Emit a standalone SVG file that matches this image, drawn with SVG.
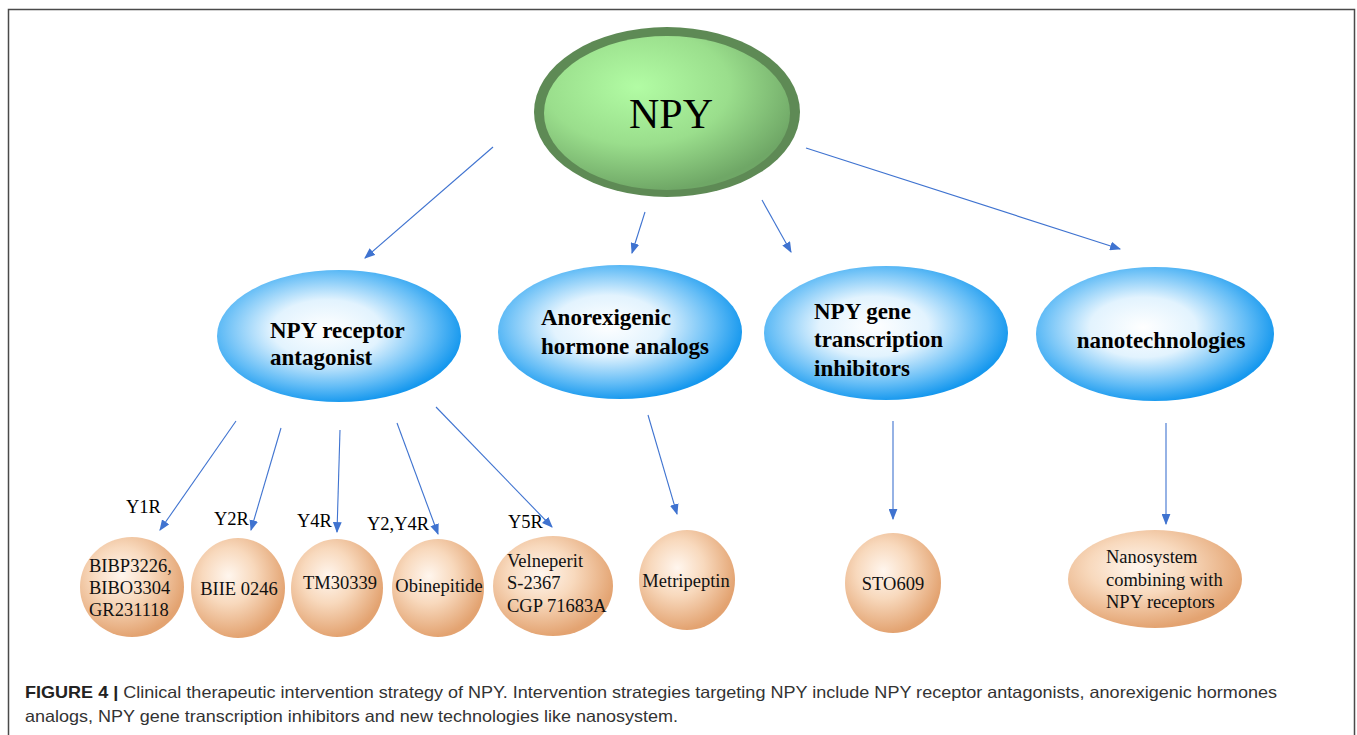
<svg xmlns="http://www.w3.org/2000/svg" width="1357" height="735" viewBox="0 0 1357 735">
<defs>
<radialGradient id="gGreen" cx="0.38" cy="0.33" r="0.68">
<stop offset="0" stop-color="#b2fca4"/>
<stop offset="0.55" stop-color="#9ade8c"/>
<stop offset="1" stop-color="#6fa766"/>
</radialGradient>
<radialGradient id="gBlue" cx="0.45" cy="0.45" r="0.56">
<stop offset="0" stop-color="#ffffff"/>
<stop offset="0.4" stop-color="#e2f3fe"/>
<stop offset="0.78" stop-color="#62bcf6"/>
<stop offset="1" stop-color="#1698ee"/>
</radialGradient>
<radialGradient id="gOrange" cx="0.4" cy="0.38" r="0.62">
<stop offset="0" stop-color="#fff6ee"/>
<stop offset="0.45" stop-color="#f8d9bd"/>
<stop offset="1" stop-color="#e3a371"/>
</radialGradient>
<marker id="ah" viewBox="0 0 10 8" refX="9" refY="4" markerWidth="11" markerHeight="9" markerUnits="userSpaceOnUse" orient="auto">
<path d="M0,0 L10,4 L0,8 Z" fill="#3f73d0"/>
</marker>
<style>
.frame{fill:none;stroke:#4a4a4a;stroke-width:1.5}
.blue{fill:url(#gBlue)}
.orange{fill:url(#gOrange)}
.bt{font-family:"Liberation Serif",serif;font-weight:bold;font-size:23px;fill:#000}
.ot{font-family:"Liberation Serif",serif;font-size:18.5px;fill:#111}
.lbl{font-family:"Liberation Serif",serif;font-size:18.5px;fill:#000}
.conn line{stroke:#3f73d0;stroke-width:1.1;marker-end:url(#ah)}
.cap{font-family:"Liberation Sans",Arial,sans-serif;font-size:16.5px;fill:#333}
</style>
</defs>
<rect width="1357" height="735" fill="#ffffff"/>
<path class="frame" d="M8.5,735 L8.5,9.5 L1354.5,9.5 L1354.5,735"/>

<g id="npy">
<ellipse cx="667" cy="112" rx="133" ry="85" fill="#5e8a55"/>
<ellipse cx="667" cy="113" rx="123" ry="77" fill="url(#gGreen)"/>
<text x="671" y="128" text-anchor="middle" font-family="Liberation Serif, serif" font-size="42" fill="#000">NPY</text>
</g>

<g id="receptor-antagonist">
<ellipse class="blue" cx="339" cy="336" rx="122" ry="66"/>
<text class="bt" x="270" y="338">NPY receptor</text>
<text class="bt" x="270" y="365">antagonist</text>
</g>
<g id="anorexigenic">
<ellipse class="blue" cx="620" cy="332" rx="122" ry="67"/>
<text class="bt" x="541" y="325">Anorexigenic</text>
<text class="bt" x="541" y="354">hormone analogs</text>
</g>
<g id="gene-inhibitors">
<ellipse class="blue" cx="886" cy="333" rx="122" ry="67"/>
<text class="bt" x="814" y="319">NPY gene</text>
<text class="bt" x="814" y="347">transcription</text>
<text class="bt" x="814" y="376">inhibitors</text>
</g>
<g id="nanotechnologies">
<ellipse class="blue" cx="1155" cy="334" rx="119" ry="67"/>
<text class="bt" x="1161" y="348" text-anchor="middle">nanotechnologies</text>
</g>

<g id="bibp">
<ellipse class="orange" cx="132" cy="587" rx="52" ry="50"/>
<text class="ot" x="89" y="572">BIBP3226,</text>
<text class="ot" x="89" y="594">BIBO3304</text>
<text class="ot" x="89" y="616">GR231118</text>
</g>
<g id="biie">
<ellipse class="orange" cx="238" cy="588" rx="47" ry="50"/>
<text class="ot" x="239" y="595" text-anchor="middle">BIIE 0246</text>
</g>
<g id="tm">
<ellipse class="orange" cx="337" cy="588" rx="46" ry="49"/>
<text class="ot" x="340" y="589" text-anchor="middle">TM30339</text>
</g>
<g id="obinepitide">
<ellipse class="orange" cx="438" cy="588" rx="46" ry="49"/>
<text class="ot" x="439" y="592" text-anchor="middle">Obinepitide</text>
</g>
<g id="velneperit">
<ellipse class="orange" cx="553" cy="586" rx="60" ry="50"/>
<text class="ot" x="507" y="567">Velneperit</text>
<text class="ot" x="507" y="589">S-2367</text>
<text class="ot" x="507" y="612">CGP 71683A</text>
</g>
<g id="metripeptin">
<ellipse class="orange" cx="687" cy="580" rx="48" ry="50"/>
<text class="ot" x="686" y="587" text-anchor="middle">Metripeptin</text>
</g>
<g id="sto609">
<ellipse class="orange" cx="893" cy="583" rx="48" ry="50"/>
<text class="ot" x="893" y="590" text-anchor="middle">STO609</text>
</g>
<g id="nanosystem">
<ellipse class="orange" cx="1155" cy="579" rx="87" ry="49"/>
<text class="ot" x="1106" y="563">Nanosystem</text>
<text class="ot" x="1106" y="586">combining with</text>
<text class="ot" x="1106" y="608">NPY receptors</text>
</g>

<g id="labels">
<text class="lbl" x="126" y="513">Y1R</text>
<text class="lbl" x="214" y="525">Y2R</text>
<text class="lbl" x="297" y="527">Y4R</text>
<text class="lbl" x="367" y="530">Y2,Y4R</text>
<text class="lbl" x="508" y="528">Y5R</text>
</g>

<g id="connectors" class="conn">
<line x1="493" y1="147" x2="365" y2="258"/>
<line x1="645" y1="212" x2="632" y2="253"/>
<line x1="762" y1="200" x2="791" y2="252"/>
<line x1="806" y1="148" x2="1120" y2="249"/>
<line x1="236" y1="421" x2="160" y2="530"/>
<line x1="281" y1="428" x2="251" y2="530"/>
<line x1="340" y1="430" x2="337" y2="532"/>
<line x1="397" y1="423" x2="438" y2="534"/>
<line x1="436" y1="407" x2="552" y2="527"/>
<line x1="648" y1="415" x2="677" y2="514"/>
<line x1="893" y1="421" x2="893" y2="519"/>
<line x1="1166" y1="423" x2="1166" y2="524"/>
</g>

<g id="caption">
<text class="cap" x="25" y="698" textLength="1252" lengthAdjust="spacingAndGlyphs"><tspan font-weight="bold" fill="#222">FIGURE 4 |</tspan> Clinical therapeutic intervention strategy of NPY. Intervention strategies targeting NPY include NPY receptor antagonists, anorexigenic hormones</text>
<text class="cap" x="25" y="722" textLength="653" lengthAdjust="spacingAndGlyphs">analogs, NPY gene transcription inhibitors and new technologies like nanosystem.</text>
</g>
</svg>
